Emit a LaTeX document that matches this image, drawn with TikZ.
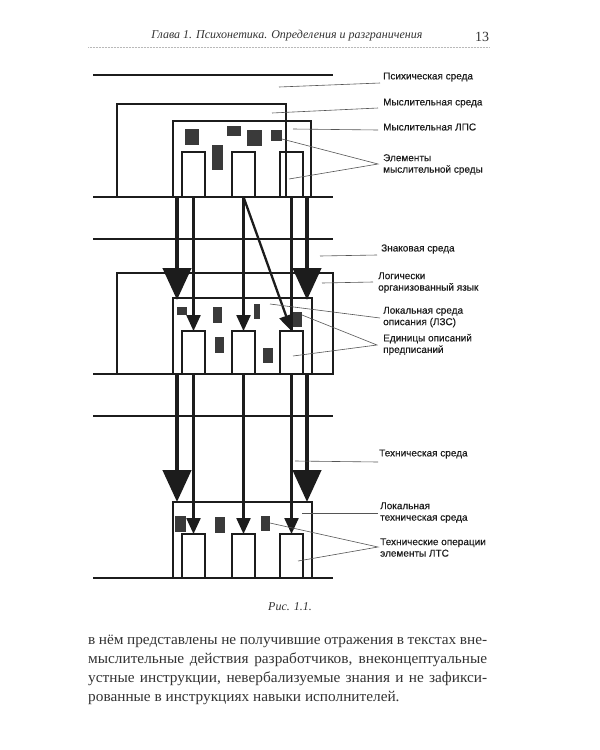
\documentclass[tikz,border=0pt]{standalone}
\usepackage{fontspec}
\setmainfont{Liberation Serif}
\setsansfont{Liberation Sans}[FakeBold=0.4]
\newfontfamily\parafont{Liberation Serif}[FakeStretch=1.02]
\usetikzlibrary{arrows.meta}
\definecolor{ink}{HTML}{1C1C1C}
\definecolor{blobc}{HTML}{3A3A3A}
\definecolor{txt}{HTML}{333333}
\begin{document}
\begin{tikzpicture}[x=1pt,y=-1pt,
  hline/.style={line width=2.5pt, draw=ink},
  frame/.style={draw=ink, line width=2.3pt, inner sep=0pt, outer sep=0pt},
  elem/.style={frame, minimum width=23pt},
  blob/.style={fill=blobc},
  lead/.style={draw=ink!75, line width=0.6pt},
  lbl/.style={font=\sffamily\fontsize{10}{11.5}\selectfont, text=ink, anchor=west, inner sep=0pt, align=left},
  bigarr/.style={draw=ink, line width=4.5pt, -{Triangle[width=28pt,length=32pt]}},
  smallarr/.style={draw=ink, line width=2.3pt, -{Triangle[width=14pt,length=16pt]}},
  plainline/.style={draw=ink, line width=2.3pt},
]
\fill[white] (0,0) rectangle (600,750);
\useasboundingbox (0,0) rectangle (600,750);

% header
\node[font=\itshape\fontsize{12}{14}\selectfont, text=txt] (hdr) at (287,36) {Глава 1. Психонетика. Определения и разграничения};
\node[font=\fontsize{14}{16}\selectfont, text=txt] (pg) at (482,37) {13};
\coordinate (ruleL) at (88,47);
\coordinate (ruleR) at (490,47);
\draw[gray!55, line width=0.5pt, densely dotted] (ruleL) -- (ruleR);

% horizontal lines
\foreach \n/\y in {psy/75, baseA/197, znak/239, baseB/374, tekh/416, baseC/578}{
  \coordinate (\n L) at (93,\y);
  \coordinate (\n R) at (333,\y);
  \draw[hline] (\n L) -- (\n R);
}

% block 1 frames
\node[frame, minimum width=169pt, minimum height=93pt] (msreda) at (201.5,150.5) {};
\node[frame, minimum width=138pt, minimum height=76pt] (lps) at (242,159) {};
% block 2 frames
\node[frame, minimum width=216pt, minimum height=101pt] (logic) at (225,323.5) {};
\node[frame, minimum width=139pt, minimum height=76pt] (lzs) at (242.5,336) {};
% block 3 frames
\node[frame, minimum width=139pt, minimum height=76pt] (lts) at (242.5,540) {};

% elements
\foreach \i/\x in {1/193.5, 2/243.5, 3/291.5}{
  \node[elem, minimum height=45pt] (a\i) at (\x,174.5) {};
  \node[elem, minimum height=43pt] (b\i) at (\x,352.5) {};
  \node[elem, minimum height=44pt] (c\i) at (\x,556) {};
}

% dark blobs
\fill[blob] (185,129) rectangle (199,145);
\fill[blob] (227,126) rectangle (241,136);
\fill[blob] (247,130) rectangle (262,146);
\fill[blob] (271,130) rectangle (282,141);
\fill[blob] (212,145) rectangle (223,170);
\fill[blob] (177,307) rectangle (187,315);
\fill[blob] (213,307) rectangle (222,323);
\fill[blob] (215,337) rectangle (224,353);
\fill[blob] (254,304) rectangle (260,319);
\fill[blob] (290,312) rectangle (302,327);
\fill[blob] (263,348) rectangle (273,363);
\fill[blob] (175,516) rectangle (186,532);
\fill[blob] (215,517) rectangle (225,533);
\fill[blob] (261,516) rectangle (270,531);

% arrow start/end coordinates
\coordinate (tLa) at (177,197);
\coordinate (tRa) at (307,197);
\coordinate (tLb) at (177,300);
\coordinate (tRb) at (307,300);
\coordinate (tLc) at (177,374);
\coordinate (tRc) at (307,374);
\coordinate (tLd) at (177,502);
\coordinate (tRd) at (307,502);

% thick arrows
\draw[bigarr] (tLa) -- (tLb);
\draw[bigarr] (tRa) -- (tRb);
\draw[bigarr] (tLc) -- (tLd);
\draw[bigarr] (tRc) -- (tRd);

% thin arrows block 1 -> 2
\draw[smallarr] (a1.south) -- (b1.north);
\draw[smallarr] (a2.south) -- (b2.north);
\draw[plainline] (a3.south) -- (b3.north);
\draw[smallarr] (a2.south) -- (b3.north);
% thin arrows block 2 -> 3
\draw[smallarr] (b1.south) -- (c1.north);
\draw[smallarr] (b2.south) -- (c2.north);
\draw[smallarr] (b3.south) -- (c3.north);

% labels
\node[lbl] (Lpsy) at (383,77) {Психическая среда};
\node[lbl] (Lmsl) at (383,103) {Мыслительная среда};
\node[lbl] (Llps) at (383,127) {Мыслительная ЛПС};
\node[lbl] (Lel) at (383,164.5) {Элементы\\мыслительной среды};
\node[lbl] (Lznak) at (381,249) {Знаковая среда};
\node[lbl] (Llog) at (378,282.5) {Логически\\организованный язык};
\node[lbl] (Llzs) at (383,317) {Локальная среда\\описания (ЛЗС)};
\node[lbl] (Led) at (383,344.5) {Единицы описаний\\предписаний};
\node[lbl] (Ltekh) at (379,454) {Техническая среда};
\node[lbl] (Llts) at (380,512.5) {Локальная\\техническая среда};
\node[lbl] (Lop) at (380,547.5) {Технические операции\\элементы ЛТС};

% leader coordinates
\coordinate (sPsy) at (279,87);   \coordinate (ePsy) at (380,83);
\coordinate (sMsl) at (272,113);  \coordinate (eMsl) at (378,108);
\coordinate (sLps) at (293,129);  \coordinate (eLps) at (378,130);
\coordinate (sEl1) at (282,139);  \coordinate (sEl2) at (289,179); \coordinate (eEl) at (378,164);
\coordinate (sZn) at (320,256);   \coordinate (eZn) at (377,255);
\coordinate (sLog) at (322,283);  \coordinate (eLog) at (373,282);
\coordinate (sLzs) at (270,304);  \coordinate (eLzs) at (380,318);
\coordinate (sEd1) at (302,315);  \coordinate (sEd2) at (293,356); \coordinate (eEd) at (377,345);
\coordinate (sTk) at (295,461);   \coordinate (eTk) at (378,462);
\coordinate (sLts) at (302,513);  \coordinate (eLts) at (378,513);
\coordinate (sOp1) at (270,523);  \coordinate (sOp2) at (298,561); \coordinate (eOp) at (378,547);

\draw[lead] (sPsy) -- (ePsy);
\draw[lead] (sMsl) -- (eMsl);
\draw[lead] (sLps) -- (eLps);
\draw[lead] (sEl1) -- (eEl) -- (sEl2);
\draw[lead] (sZn) -- (eZn);
\draw[lead] (sLog) -- (eLog);
\draw[lead] (sLzs) -- (eLzs);
\draw[lead] (sEd1) -- (eEd) -- (sEd2);
\draw[lead] (sTk) -- (eTk);
\draw[lead] (sLts) -- (eLts);
\draw[lead] (sOp1) -- (eOp) -- (sOp2);

% caption
\node[font=\itshape\fontsize{12}{14}\selectfont, text=txt] (cap) at (290,607) {Рис. 1.1.};

% paragraph
\tikzset{para/.style={anchor=base west, inner sep=0pt, text=txt, font=\parafont\fontsize{15}{19}\selectfont}}
\node[para] (p1) at (88,644) {\makebox[399pt][s]{в нём представлены не получившие отражения в текстах вне-}};
\node[para] (p2) at (88,663) {\makebox[399pt][s]{мыслительные действия разработчиков, внеконцептуальные}};
\node[para] (p3) at (88,682) {\makebox[399pt][s]{устные инструкции, невербализуемые знания и не зафикси-}};
\node[para] (p4) at (88,701) {рованные в инструкциях навыки исполнителей.};
\end{tikzpicture}
\end{document}
